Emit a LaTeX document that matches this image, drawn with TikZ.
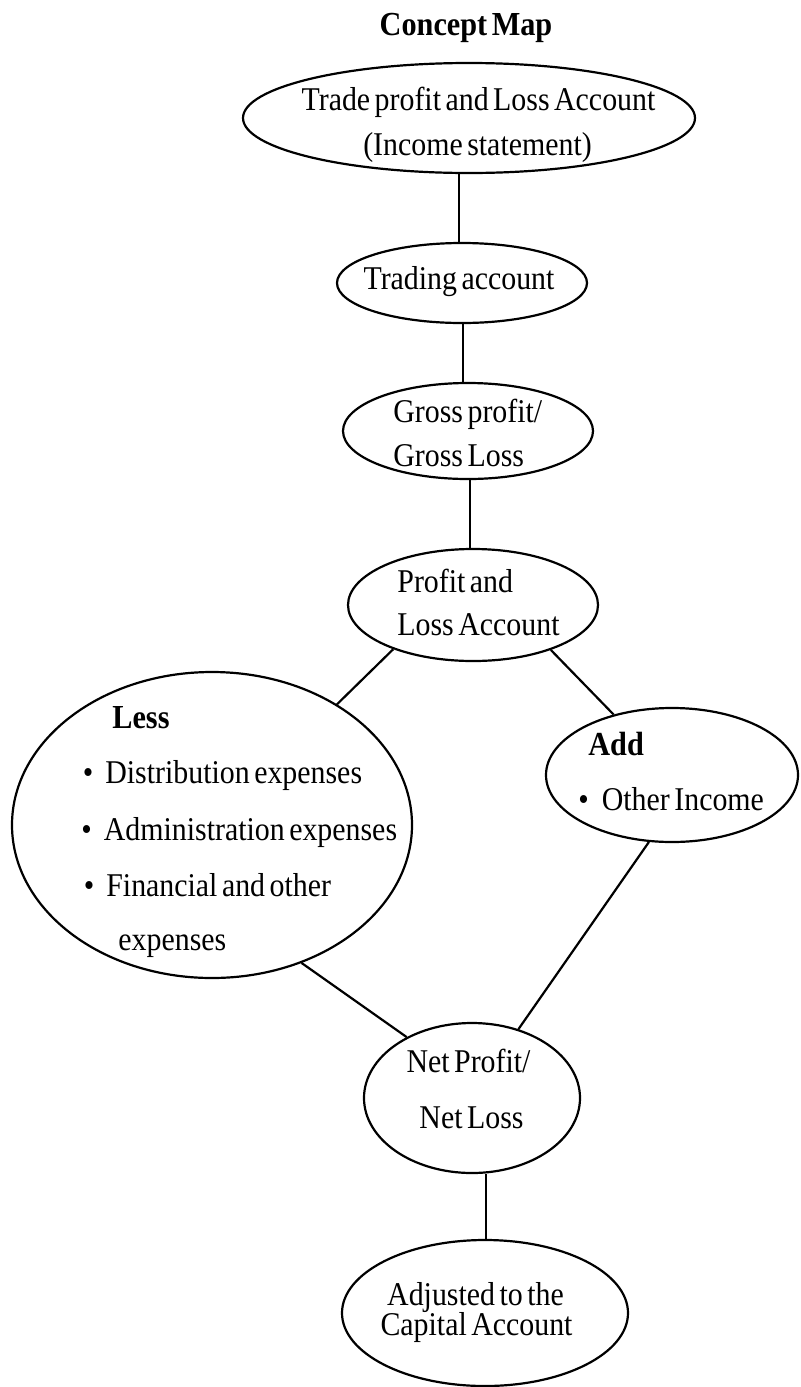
\documentclass[tikz,border=0pt]{standalone}
\usepackage{fontspec}
\setmainfont{Liberation Serif}[WordSpace=0.6,FakeStretch=0.9]
\usetikzlibrary{shapes.geometric}
\begin{document}
\begin{tikzpicture}[x=0.5pt,y=-0.5pt,
  bubble/.style={draw,ellipse,line width=1.1pt,inner sep=0pt},
  txt/.style={inner sep=0pt,font=\fontsize{16.6}{19}\selectfont},
  head/.style={inner sep=0pt,font=\fontsize{16.8}{19}\selectfont\bfseries},
  link/.style={line width=1.1pt}]
\useasboundingbox (0,0) rectangle (800,1387);

% title
\node[head,anchor=base] (title) at (466,35) {Concept Map};

% ellipses (sizes in pt: half the pixel diameter)
\node[bubble,minimum width=226pt,minimum height=55pt] (top)   at (469,118)  {};
\node[bubble,minimum width=125pt,minimum height=40pt] (trade) at (462,283)  {};
\node[bubble,minimum width=125pt,minimum height=48pt] (gross) at (468,431)  {};
\node[bubble,minimum width=125pt,minimum height=56pt] (pl)    at (473,605)  {};
\node[bubble,minimum width=200pt,minimum height=153pt] (less) at (212,825)  {};
\node[bubble,minimum width=126pt,minimum height=67pt] (add)   at (672,775)  {};
\node[bubble,minimum width=108pt,minimum height=75pt] (net)   at (472,1098) {};
\node[bubble,minimum width=143pt,minimum height=73pt] (adj)   at (485,1313) {};

% texts
\node[txt,anchor=base] (topA) at (478.5,110) {Trade profit and Loss Account};
\node[txt,anchor=base] (topB) at (477.5,155) {(Income statement)};
\node[txt,anchor=base] (tradeA) at (459,289) {Trading account};
\node[txt,anchor=base west] (grossA) at (393,422) {Gross profit/};
\node[txt,anchor=base west] (grossB) at (393,466) {Gross Loss};
\node[txt,anchor=base west] (plA) at (397,592) {Profit and};
\node[txt,anchor=base west] (plB) at (397,635) {Loss Account};

\node[head,anchor=base west] (lessH) at (112,728) {Less};
\node[txt,anchor=base west] (lessA) at (82.5,783) {\textbullet\hspace{6pt}Distribution expenses};
\node[txt,anchor=base west] (lessB) at (81,840) {\textbullet\hspace{6pt}Administration expenses};
\node[txt,anchor=base west] (lessC) at (83.5,896) {\textbullet\hspace{6pt}Financial and other};
\node[txt,anchor=base west] (lessD) at (118,950) {expenses};

\node[head,anchor=base west] (addH) at (588,755) {Add};
\node[txt,anchor=base west] (addA) at (578,810) {\textbullet\hspace{6.5pt}Other Income};

\node[txt,anchor=base] (netA) at (468.5,1072) {Net Profit/};
\node[txt,anchor=base] (netB) at (471.5,1128) {Net Loss};
\node[txt,anchor=base] (adjA) at (475.5,1305) {Adjusted to the};
\node[txt,anchor=base] (adjB) at (476.5,1335) {Capital Account};

% connectors
\draw[link] (trade.north) ++(-3,0) coordinate (tn) -- (tn |- top.south);
\draw[link] (trade.south) ++(1,0) coordinate (ts) -- (ts |- gross.north);
\draw[link] (gross.south) ++(2,0) coordinate (gs) -- (gs |- pl.north);
\draw[link] (pl.209) -- (less.44);
\draw[link] (pl.330) -- (add.134);
\draw[link] (less.303) -- (net.137);
\draw[link] (add.251) -- (net.56);
\draw[link] (adj.north) ++(1,0) coordinate (an) -- (an |- net.south);
\end{tikzpicture}
\end{document}
